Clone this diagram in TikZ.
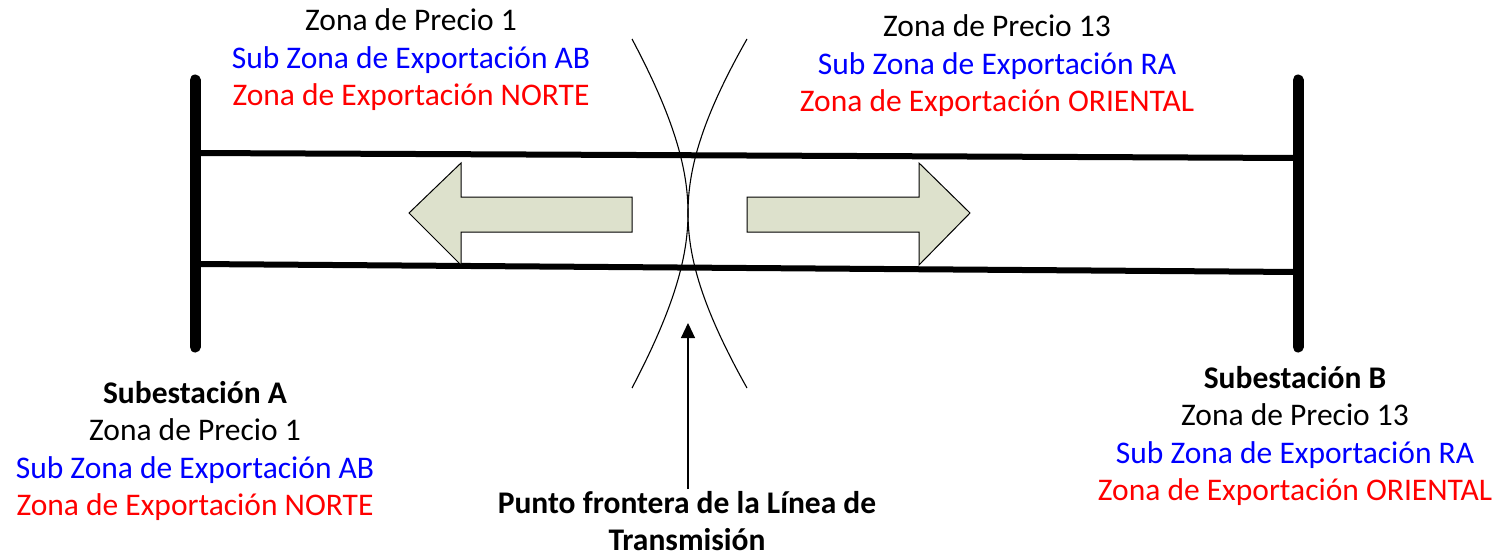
\documentclass[tikz,border=0pt]{standalone}
\usepackage{fontspec}
\setmainfont{Carlito}
\usetikzlibrary{arrows.meta}
\definecolor{arrowfill}{RGB}{221,225,204}
\definecolor{tblue}{RGB}{0,0,255}
\definecolor{tred}{RGB}{255,0,0}
\tikzset{
  bus/.style={line width=11pt, line cap=round},
  tline/.style={line width=6pt},
  flowarrow/.style={draw=black, line width=1pt, fill=arrowfill, line join=miter},
  border/.style={line width=1.1pt},
  lbl/.style={font=\fontsize{31.5pt}{37.5pt}\selectfont, align=center, anchor=base, inner sep=0pt},
}
\begin{document}
\begin{tikzpicture}[x=1pt,y=-1pt]
\useasboundingbox (0,0) rectangle (1503,556);
% buses
\coordinate (a1) at (195,80); \coordinate (a2) at (195,347);
\coordinate (b1) at (1298,80); \coordinate (b2) at (1298,347);
\draw[bus] (a1) -- (a2);
\draw[bus] (b1) -- (b2);
% transmission lines
\draw[tline] (195,153) -- (1298,158);
\draw[tline] (195,264) -- (1298,272);
% flow arrows
\draw[flowarrow] (409,213) -- (461,163) -- (461,197) -- (632,197) -- (632,232) -- (461,232) -- (461,265) -- cycle;
\draw[flowarrow] (747,197) -- (919,197) -- (919,163) -- (970,213) -- (919,265) -- (919,232) -- (747,232) -- cycle;
% border curves
\draw[border] (632,39) .. controls (675,120) and (688,170) .. (688,213) .. controls (688,256) and (675,306) .. (632,388);
\draw[border] (747,39) .. controls (701,120) and (688,170) .. (688,213) .. controls (688,256) and (701,306) .. (747,388);
% labels (anchor=base is the baseline of the last line)
\node[lbl] (tl) at (411,106) {Zona de Precio 1\\\textcolor{tblue}{Sub Zona de Exportación AB}\\\textcolor{tred}{Zona de Exportación NORTE}};
\node[lbl] (tr) at (997,112) {Zona de Precio 13\\\textcolor{tblue}{Sub Zona de Exportación RA}\\\textcolor{tred}{Zona de Exportación ORIENTAL}};
\node[lbl] (sa) at (195,515.5) {\textbf{Subestación A}\\Zona de Precio 1\\\textcolor{tblue}{Sub Zona de Exportación AB}\\\textcolor{tred}{Zona de Exportación NORTE}};
\node[lbl] (sb) at (1295,500.5) {\textbf{Subestación B}\\Zona de Precio 13\\\textcolor{tblue}{Sub Zona de Exportación RA}\\\textcolor{tred}{Zona de Exportación ORIENTAL}};
\node[lbl, font=\fontsize{31.5pt}{37pt}\selectfont\bfseries] (pf) at (687,550) {Punto frontera de la Línea de\\Transmisión};
% pointer arrow
\coordinate (ptip) at (688,323);
\coordinate (pbase) at (688,489);
\draw[line width=1.1pt, -{Triangle[width=14pt,length=15pt]}] (pbase) -- (ptip);
\end{tikzpicture}
\end{document}
